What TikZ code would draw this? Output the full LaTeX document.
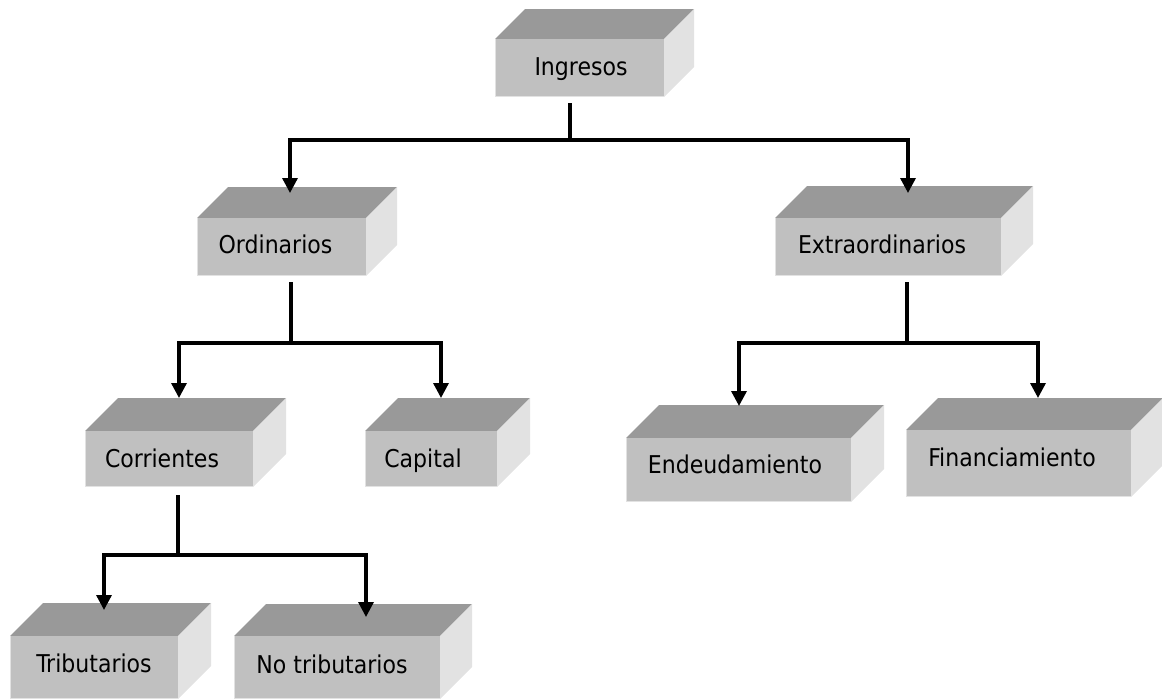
\documentclass[tikz,border=0pt]{standalone}
\usepackage{fontspec}
\setmainfont{DejaVu Sans Condensed}
\usetikzlibrary{arrows.meta}
\definecolor{frontc}{RGB}{192,192,192}
\definecolor{topc}{RGB}{153,153,153}
\definecolor{sidec}{RGB}{226,226,226}
\definecolor{edgec}{RGB}{226,226,226}
\tikzset{
  front/.style={fill=frontc, inner sep=0pt, outer sep=0pt,
    font=\fontsize{24.5}{29}\selectfont, text height=17.8pt, text depth=0pt},
  topface/.style={fill=topc},
  sideface/.style={fill=sidec},
  stemline/.style={line width=3.3pt, black},
  conn/.style={line width=3.3pt, black, -{Triangle[length=15pt,width=15pt]}},
}
\newcommand\cubebox[9]{%
  \fill[topface] (#2,#3) -- ({#2+#6},{#3-#6}) -- ({#4+#6},{#3-#6}) -- (#4,#3) -- cycle;
  \fill[sideface] (#4,#3) -- ({#4+#6},{#3-#6}) -- ({#4+#6},{#5-#6}) -- (#4,#5) -- cycle;
  \node[front, minimum width={#4-#2}, minimum height={#5-#3}] (#1) at ({(#2+#4)/2},{(#3+#5)/2})
    {\hspace*{#8pt}\raisebox{#9pt}{#7}};
  \draw[edgec, line width=1.2pt] ([xshift=0.6pt]#1.north west) -- ([xshift=0.6pt,yshift=0.6pt]#1.south west) -- ([yshift=0.6pt]#1.south east);
}
\begin{document}
\begin{tikzpicture}[x=1pt,y=-1pt]
\useasboundingbox (0,0) rectangle (1162,699);
% boxes
\cubebox{ing}{495}{39}{664}{97}{30}{Ingresos}{3}{1}
\cubebox{ord}{197}{218}{366}{276}{31}{Ordinarios}{-12}{2}
\cubebox{ext}{775}{218}{1001}{276}{32}{Extraordinarios}{-12}{2}
\cubebox{cor}{85}{431}{253}{487}{33}{Corrientes}{-14}{0.5}
\cubebox{cap}{365}{431}{497}{487}{33}{Capital}{-16}{0.5}
\cubebox{end}{626}{438}{851}{502}{33}{Endeudamiento}{-7}{5}
\cubebox{fin}{906}{430}{1131}{497}{32}{Financiamiento}{-13}{6}
\cubebox{tri}{10}{636}{178}{699}{33}{Tributarios}{0}{4}
\cubebox{not}{234}{636}{440}{699}{32}{No tributarios}{-10}{3}
% junctions
\coordinate (ing-j) at (570,140);
\coordinate (ord-j) at (291,343);
\coordinate (ext-j) at (907,343);
\coordinate (cor-j) at (178,555);
% connectors
\draw[stemline] ([xshift=-9.5pt,yshift=-6pt]ing.south) -- (ing-j);
\draw[conn] (ing-j) -| ([xshift=8.5pt,yshift=25pt]ord.north);
\draw[conn] (ing-j) -| ([xshift=20pt,yshift=25pt]ext.north);
\draw[stemline] ([xshift=9.5pt,yshift=-6pt]ord.south) -- (ord-j);
\draw[conn] (ord-j) -| ([xshift=10pt,yshift=33pt]cor.north);
\draw[conn] (ord-j) -| ([xshift=10pt,yshift=33pt]cap.north);
\draw[stemline] ([xshift=19pt,yshift=-6pt]ext.south) -- (ext-j);
\draw[conn] (ext-j) -| ([xshift=0.5pt,yshift=32pt]end.north);
\draw[conn] (ext-j) -| ([xshift=19.5pt,yshift=32pt]fin.north);
\draw[stemline] ([xshift=9pt,yshift=-8pt]cor.south) -- (cor-j);
\draw[conn] (cor-j) -| ([xshift=10pt,yshift=26pt]tri.north);
\draw[conn] (cor-j) -| ([xshift=29pt,yshift=19pt]not.north);
\end{tikzpicture}
\end{document}
